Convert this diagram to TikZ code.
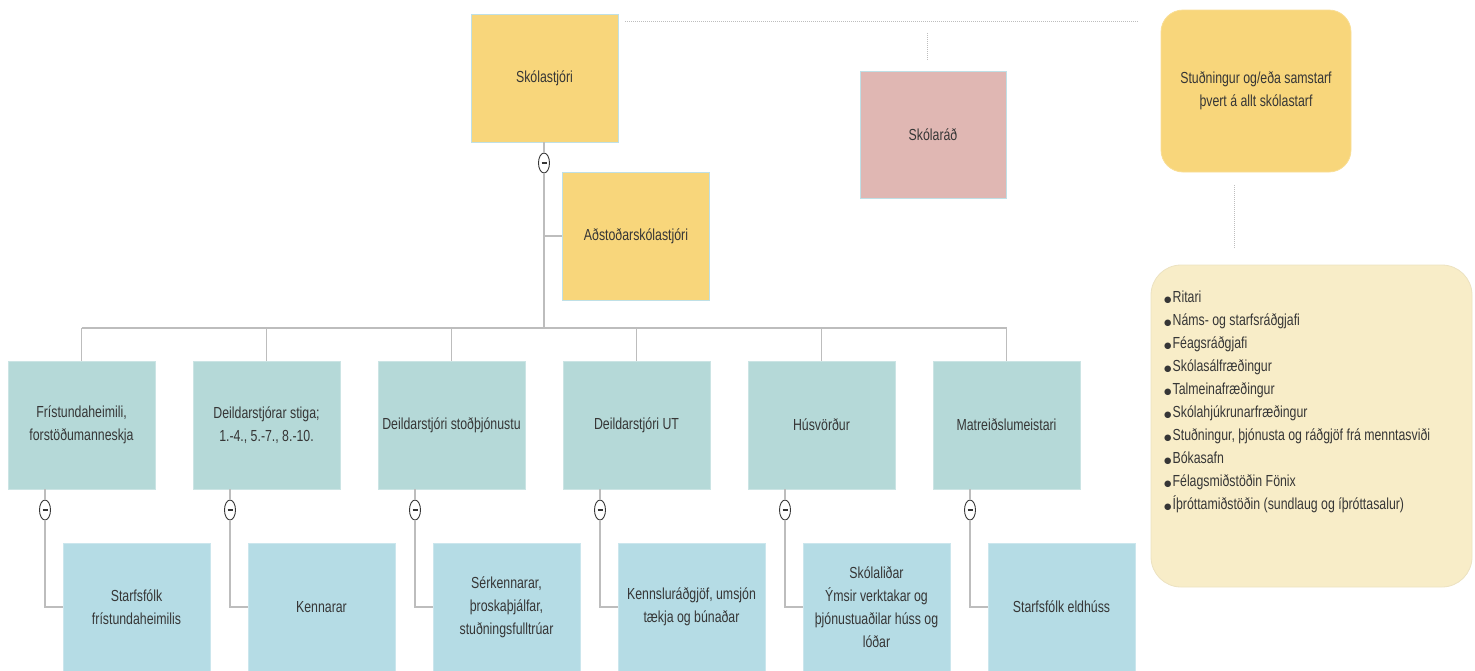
\documentclass[tikz,border=0pt]{standalone}
\usepackage{fontspec}
\setmainfont{Liberation Sans}[FakeStretch=0.77]
\newfontfamily\bulfont{DejaVu Sans}
\usetikzlibrary{shapes.geometric}
\definecolor{yel}{HTML}{F8D67B}
\definecolor{tealc}{HTML}{B5D9D8}
\definecolor{bluec}{HTML}{B5DCE5}
\definecolor{pinkc}{HTML}{E0B7B3}
\definecolor{palec}{HTML}{F8EDC8}
\definecolor{bordc}{HTML}{BFE0E6}
\definecolor{linec}{HTML}{BDBDBD}
\definecolor{txtc}{HTML}{363636}
\tikzset{
  basebox/.style={draw=bordc, line width=0.8pt, minimum width=147pt, minimum height=128pt,
    inner sep=0pt, align=center, text=txtc, font=\fontsize{16}{23}\selectfont},
  ybox/.style={basebox, fill=yel},
  tbox/.style={basebox, fill=tealc, draw=tealc!70!white},
  cbox/.style={basebox, fill=bluec, draw=bluec!70!white},
  pbox/.style={basebox, fill=pinkc, minimum width=146pt, minimum height=127pt},
  conn/.style={draw=linec, line width=1.5pt},
  dotconn/.style={draw=linec, line width=1pt, densely dotted},
  minus/.style={ellipse, draw=txtc, line width=0.9pt, fill=white, minimum width=11pt,
    minimum height=20pt, inner sep=0pt, text=txtc},
}
\newcommand{\mns}{\rule[0pt]{5pt}{2.2pt}}
\newcommand{\bul}{{\bulfont\fontsize{8.5}{23}\selectfont ●}\hspace{1pt}}
\begin{document}
\begin{tikzpicture}[x=1pt, y=-1pt]
\useasboundingbox (0,0) rectangle (1475,670);
% top
\node[ybox] (sk) at (544.5,78) {Skólastjóri};
\node[ybox] (ads) at (636,236) {Aðstoðarskólastjóri};
\node[minus] (m0) at (544,163) {\mns};
\coordinate (j0) at (544,328);
\coordinate (jl) at (81.5,328);
\coordinate (jr) at (1006.5,328);
\draw[conn] (sk.south -| m0) -- (m0.north);
\draw[conn] (m0.south) -- (j0);
\draw[conn] (m0 |- ads.west) -- (ads.west);
\draw[conn] (jl) -- (jr);
% level 2
\node[tbox] (l1) at (81.5,425) {Frístundaheimili,\\forstöðumanneskja};
\node[tbox] (l2) at (266.5,425) {Deildarstjórar stiga;\\1.-4., 5.-7., 8.-10.};
\node[tbox] (l3) at (451.5,425) {Deildarstjóri stoðþjónustu};
\node[tbox] (l4) at (636.5,425) {Deildarstjóri UT};
\node[tbox] (l5) at (821.5,425) {Húsvörður};
\node[tbox] (l6) at (1006.5,425) {Matreiðslumeistari};
% level 3
\node[cbox] (c1) at (136.5,607) {Starfsfólk\\frístundaheimilis};
\node[cbox] (c2) at (321.5,607) {Kennarar};
\node[cbox] (c3) at (506.5,607) {Sérkennarar,\\þroskaþjálfar,\\stuðningsfulltrúar};
\node[cbox] (c4) at (691.5,607) {Kennsluráðgjöf, umsjón\\tækja og búnaðar};
\node[cbox] (c5) at (876.5,607) {Skólaliðar\\Ýmsir verktakar og\\þjónustuaðilar húss og\\lóðar};
\node[cbox] (c6) at (1061.5,607) {Starfsfólk eldhúss};
\foreach \i/\x in {1/45,2/230,3/415,4/600,5/785,6/970}{
  \draw[conn] (l\i.north |- j0) -- (l\i.north);
  \node[minus] (m\i) at (\x,510) {\mns};
  \draw[conn] (m\i |- l\i.south) -- (m\i.north);
  \draw[conn] (m\i.south) -- (m\i |- c\i.west) -- (c\i.west);
}
% right side
\node[pbox] (sr) at (933,134.5) {Skólaráð};
\coordinate (d1) at (625,21);
\coordinate (d2) at (1139,21);
\coordinate (d3) at (927,33);
\coordinate (d4) at (927,60);
\draw[dotconn] (d1) -- (d2);
\draw[dotconn] (d3) -- (d4);
\node[basebox, fill=yel, draw=yel!80!white, rounded corners=22pt, minimum width=190pt,
  minimum height=162pt] (st) at (1256,91) {Stuðningur og/eða samstarf\\þvert á allt skólastarf};
\node[basebox, fill=palec, draw=palec!90!gray, rounded corners=30pt, minimum width=321pt,
  minimum height=322pt] (ls) at (1311.5,426) {};
\coordinate (d5) at (1234,185);
\coordinate (d6) at (1234,248);
\draw[dotconn] (d5) -- (d6);
\node[anchor=north west, inner sep=0pt, align=left, text=txtc,
  font=\fontsize{16}{23}\selectfont] (lt) at (1164,291) {%
\bul Ritari\\
\bul Náms- og starfsráðgjafi\\
\bul Féagsráðgjafi\\
\bul Skólasálfræðingur\\
\bul Talmeinafræðingur\\
\bul Skólahjúkrunarfræðingur\\
\bul Stuðningur, þjónusta og ráðgjöf frá menntasviði\\
\bul Bókasafn\\
\bul Félagsmiðstöðin Fönix\\
\bul Íþróttamiðstöðin (sundlaug og íþróttasalur)};
\end{tikzpicture}
\end{document}
